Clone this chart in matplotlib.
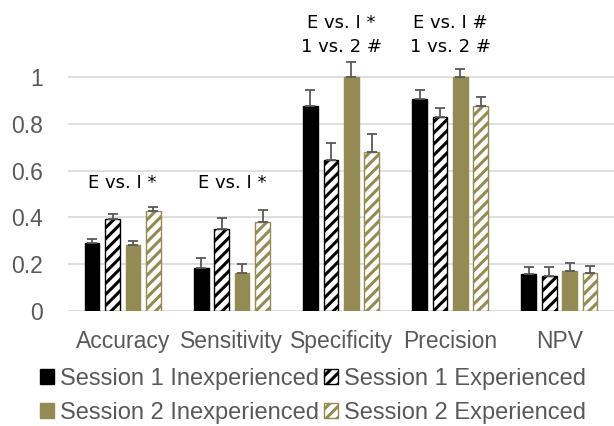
import numpy as np
import matplotlib
matplotlib.use("Agg")
import matplotlib.pyplot as plt

categories = ["Accuracy", "Sensitivity", "Specificity", "Precision", "NPV"]
series = ["Session 1 Inexperienced", "Session 1 Experienced",
          "Session 2 Inexperienced", "Session 2 Experienced"]

s1_inexp = [0.289, 0.185, 0.878, 0.908, 0.158]
s1_exp = [0.395, 0.351, 0.644, 0.828, 0.151]
s2_inexp = [0.284, 0.161, 1.000, 1.000, 0.172]
s2_exp = [0.427, 0.381, 0.678, 0.875, 0.161]

# upper error bar lengths
s1_inexp_err = [0.017, 0.043, 0.066, 0.036, 0.031]
s1_exp_err = [0.018, 0.046, 0.074, 0.040, 0.035]
s2_inexp_err = [0.016, 0.038, 0.065, 0.033, 0.033]
s2_exp_err = [0.018, 0.050, 0.080, 0.042, 0.032]

annotations = ["E vs. I *", "E vs. I *", "E vs. I *\n1 vs. 2 #", "E vs. I #\n1 vs. 2 #", ""]

olive = "#948A54"
grid_gray = "#D9D9D9"
text_gray = "#595959"

plt.rcParams["hatch.linewidth"] = 2.2

fig = plt.figure(figsize=(6.14, 4.26), dpi=100)
ax = fig.add_axes([0.111, 0.27, 0.889, 0.73])

x = np.arange(len(categories))
pitch = 0.187
width = 0.135
offsets = (np.arange(4) - 1.5) * pitch

values = [s1_inexp, s1_exp, s2_inexp, s2_exp]
errs = [s1_inexp_err, s1_exp_err, s2_inexp_err, s2_exp_err]
styles = [
    dict(color="black", edgecolor="black", hatch=None),
    dict(color="white", edgecolor="black", hatch="///"),
    dict(color=olive, edgecolor=olive, hatch=None),
    dict(color="white", edgecolor=olive, hatch="///"),
]

handles = []
for i in range(4):
    b = ax.bar(x + offsets[i], values[i], width, facecolor=styles[i]["color"],
               edgecolor=styles[i]["edgecolor"], hatch=styles[i]["hatch"],
               linewidth=1.0, label=series[i], zorder=3)
    ax.errorbar(x + offsets[i], values[i],
                yerr=[np.zeros(len(categories)), errs[i]],
                fmt="none", ecolor=text_gray, elinewidth=1.3, capsize=3.5,
                capthick=1.3, zorder=4)
    handles.append(b)

for xi, txt in zip(x, annotations):
    if not txt:
        continue
    if "\n" in txt:
        ax.text(xi, 1.09, txt, ha="center", va="bottom", fontsize=13,
                family="DejaVu Sans", color="black", linespacing=1.45)
    else:
        ax.text(xi, 0.51, txt, ha="center", va="bottom", fontsize=13,
                family="DejaVu Sans", color="black")

ax.set_xlim(-0.5, 4.5)
ax.set_ylim(0, 1.33)
ax.set_yticks(np.arange(0, 1.01, 0.2))
ax.set_yticklabels(["0", "0.2", "0.4", "0.6", "0.8", "1"])
ax.set_xticks(x)
ax.set_xticklabels(categories)
ax.yaxis.grid(True, color=grid_gray, linewidth=1.2, zorder=0)
ax.set_axisbelow(True)
for s in ax.spines.values():
    s.set_visible(False)
ax.tick_params(axis="both", length=0, labelsize=16.5, labelcolor=text_gray,
               labelfontfamily="Liberation Sans")
ax.tick_params(axis="y", pad=18)
ax.tick_params(axis="x", pad=14)

# legend fills column-wise, so reorder to get S1 on the first row
order = [0, 2, 1, 3]
fig.legend([handles[i] for i in order], [series[i] for i in order],
           loc="lower center", bbox_to_anchor=(0.51, -0.045),
           ncol=2, frameon=False, handlelength=0.6,
           handleheight=0.6, handletextpad=0.25, columnspacing=0.2,
           labelspacing=0.5, labelcolor=text_gray,
           prop={"family": "Liberation Sans", "size": 17})

fig.savefig("out.png", dpi=100)
